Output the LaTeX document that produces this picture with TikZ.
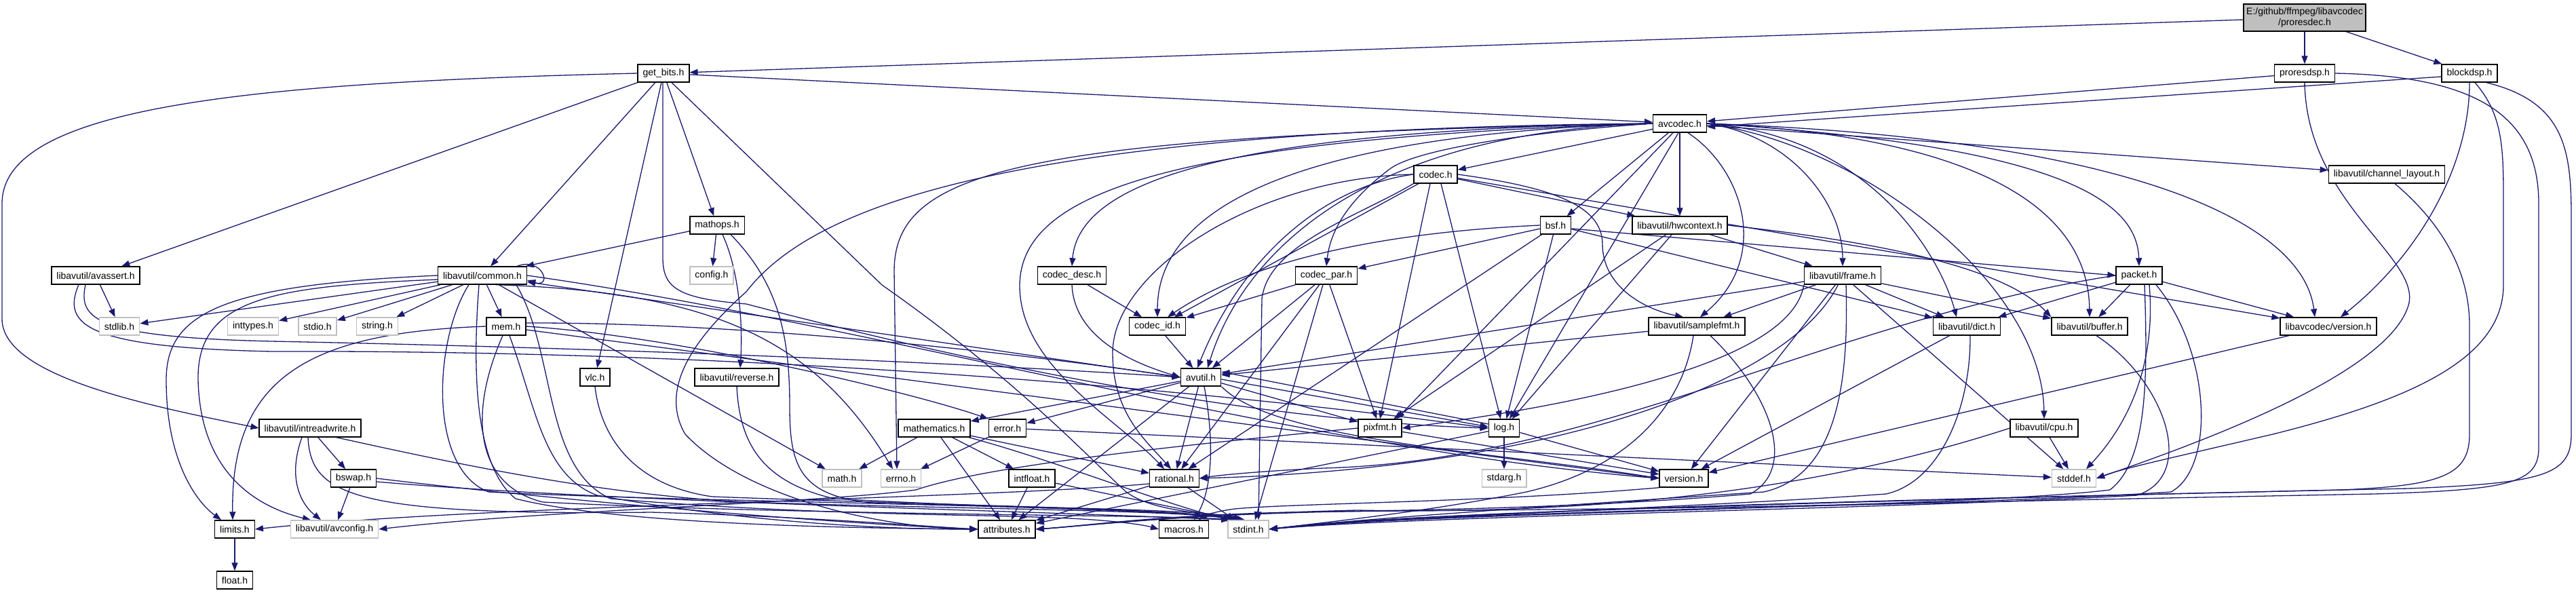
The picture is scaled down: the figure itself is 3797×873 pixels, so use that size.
\documentclass[tikz,border=0pt]{standalone}
\usepackage{fontspec}
\setmainfont{Liberation Sans}
\usetikzlibrary{arrows.meta}
\definecolor{edgec}{HTML}{191970}
\definecolor{grayb}{HTML}{BFBFBF}
\pgfdeclarelayer{back}
\pgfdeclarelayer{bg}
\pgfsetlayers{back,bg,main}
\begin{document}
\begin{tikzpicture}[x=1pt,y=-1pt,
 box/.style={draw=black,line width=1.4pt,fill=white,minimum height=26pt,inner xsep=7.5pt,inner ysep=0pt,font=\fontsize{14}{16}\selectfont},
 sysbox/.style={box,draw=grayb},
 e/.style={draw=edgec,line width=1.3pt,-{Triangle[length=12pt,width=9pt]}},
]
\useasboundingbox (0,0) rectangle (3797,873);
\begin{pgfonlayer}{back}
\fill[white] (0,0) rectangle (3797,873);
\end{pgfonlayer}
% ---------------- nodes
\node[box,fill=grayb,align=center,minimum height=40pt,inner xsep=4pt] (proresdec) at (3397,26) {E:/github/ffmpeg/libavcodec\\/proresdec.h};
\node[box] (proresdsp) at (3397,108) {proresdsp.h};
\node[box] (blockdsp) at (3640,108) {blockdsp.h};
\node[box] (getbits) at (978,108) {get\_bits.h};
\node[box] (avcodec) at (2476,182) {avcodec.h};
\node[box] (codec) at (2116,257) {codec.h};
\node[box] (chlayout) at (3518,257) {libavutil/channel\_layout.h};
\node[box] (bsf) at (2293,332) {bsf.h};
\node[box] (hwcontext) at (2476,332) {libavutil/hwcontext.h};
\node[box] (mathops) at (1057,332) {mathops.h};
\node[box] (avassert) at (141,406) {libavutil/avassert.h};
\node[box] (common) at (711,406) {libavutil/common.h};
\node[sysbox] (config) at (1049,406) {config.h};
\node[box] (codecdesc) at (1580,406) {codec\_desc.h};
\node[box] (codecpar) at (1955,406) {codec\_par.h};
\node[box] (frame) at (2716,406) {libavutil/frame.h};
\node[box] (packet) at (3153,406) {packet.h};
\node[sysbox] (stdlib) at (176,481) {stdlib.h};
\node[sysbox] (inttypes) at (373,481) {inttypes.h};
\node[sysbox] (stdio) at (468,481) {stdio.h};
\node[sysbox] (string) at (556,481) {string.h};
\node[box] (mem) at (746,481) {mem.h};
\node[box] (codecid) at (1706,481) {codec\_id.h};
\node[box] (samplefmt) at (2501,481) {libavutil/samplefmt.h};
\node[box] (dict) at (2899,481) {libavutil/dict.h};
\node[box] (buffer) at (3080,481) {libavutil/buffer.h};
\node[box] (lavcver) at (3432,481) {libavcodec/version.h};
\node[box] (reverse) at (1086,556) {libavutil/reverse.h};
\node[box] (avutil) at (1770,556) {avutil.h};
\node[box] (vlc) at (877,556) {vlc.h};
\node[box] (intrw) at (457,631) {libavutil/intreadwrite.h};
\node[box] (mathematics) at (1377,631) {mathematics.h};
\node[box] (error) at (1485,631) {error.h};
\node[box] (pixfmt) at (2034,631) {pixfmt.h};
\node[box] (log) at (2217,631) {log.h};
\node[box] (cpu) at (3013,631) {libavutil/cpu.h};
\node[box] (bswap) at (521,705) {bswap.h};
\node[sysbox] (math) at (1241,705) {math.h};
\node[sysbox] (errno) at (1328,705) {errno.h};
\node[box] (intfloat) at (1521,705) {intfloat.h};
\node[box] (rational) at (1731,705) {rational.h};
\node[sysbox] (stdarg) at (2217,705) {stdarg.h};
\node[box] (version) at (2482,705) {version.h};
\node[sysbox] (stddef) at (3057,705) {stddef.h};
\node[box] (limits) at (346,780) {limits.h};
\node[sysbox] (avconfig) at (493,780) {libavutil/avconfig.h};
\node[box] (attributes) at (1484,780) {attributes.h};
\node[box] (macros) at (1745,780) {macros.h};
\node[sysbox] (stdint) at (1840,780) {stdint.h};
\node[box] (float) at (346,855) {float.h};
% ---------------- edges
\begin{pgfonlayer}{bg}
% proresdec
\draw[e] (proresdec) -- (getbits);
\draw[e] (proresdec) -- (proresdsp);
\draw[e] (proresdec) -- (blockdsp);
% proresdsp
\draw[e] (proresdsp) -- (avcodec);
\draw[e] (proresdsp.south) .. controls (3400,300) and (3570,380) .. (3550,450) .. controls (3520,550) and (3250,650) .. (stddef.east);
\draw[e] (proresdsp.east) .. controls (3650,112) and (3742,170) .. (3742,300) -- (3742,660) .. controls (3742,712) and (3700,722) .. (3500,728) .. controls (2600,745) and (2050,760) .. (stdint.east);
% blockdsp
\draw[e] ([yshift=-5pt]blockdsp.west) -- ([yshift=-5pt]avcodec.east);
\draw[e] (blockdsp.south) .. controls (3640,250) and (3560,380) .. ([xshift=18pt]lavcver.north);
\draw[e] ([xshift=8pt]blockdsp.south) .. controls (3690,170) and (3690,220) .. (3690,300) -- (3690,420) .. controls (3690,530) and (3550,590) .. (3350,640) .. controls (3200,675) and (3130,690) .. (stddef.east);
\draw[e] ([xshift=25pt]blockdsp.south) .. controls (3780,150) and (3790,220) .. (3790,320) -- (3790,640) .. controls (3790,700) and (3750,712) .. (3550,720) .. controls (2600,740) and (2050,758) .. (stdint.east);
% channel layout
\draw[e] ([xshift=12pt]chlayout.south) .. controls (3600,330) and (3640,400) .. (3640,480) -- (3640,640) .. controls (3640,700) and (3600,716) .. (3450,722) .. controls (2600,742) and (2050,758) .. (stdint.east);
% get_bits
\draw[e] (getbits) -- (avcodec);
\draw[e] (getbits) -- (avassert);
\draw[e] (getbits) -- (common);
\draw[e] (getbits.west) .. controls (350,122) and (3,160) .. (3,300) -- (3,470) .. controls (3,555) and (220,598) .. (intrw.west);
\draw[e] ([xshift=-1pt]getbits.south) -- (977,380) .. controls (977,425) and (1000,440) .. (1100,448) .. controls (1450,540) and (1850,620) .. (log.west);
\draw[e] (getbits) -- (mathops);
\draw[e] (getbits) -- (vlc);
\draw[e] ([xshift=12pt]getbits.south) -- (1300,420) .. controls (1500,560) and (1610,680) .. (1660,725) .. controls (1700,755) and (1780,755) .. ([xshift=-20pt]stdint.north);
% avcodec
\draw[e] (avcodec.west) .. controls (1500,200) and (1318,250) .. (1318,400) -- ([xshift=-6pt]errno.north);
\draw[e] (avcodec.west) .. controls (1500,190) and (1200,300) .. (1100,430) .. controls (1010,510) and (975,580) .. (1010,640) .. controls (1100,735) and (1300,778) .. (attributes.west);
\draw[e] ([xshift=12pt]avcodec.south) .. controls (2570,250) and (2610,380) .. ([xshift=5pt]samplefmt.north);
\draw[e] (avcodec.west) .. controls (2000,195) and (1830,380) .. ([xshift=10pt]avutil.north);
\draw[e] (avcodec.east) .. controls (2900,200) and (3078,300) .. (buffer.north);
\draw[e] (avcodec.east) .. controls (2750,215) and (3010,420) .. (cpu.north);
\draw[e] (avcodec) -- (chlayout);
\draw[e] (avcodec.east) .. controls (2760,200) and (2860,380) .. ([xshift=-15pt]dict.north);
\draw[e] (avcodec.east) .. controls (2640,200) and (2716,300) .. (frame.north);
\draw[e] (avcodec) -- (hwcontext);
\draw[e] ([xshift=-2pt]avcodec.south) -- (log);
\draw[e] ([xshift=-10pt]avcodec.south) -- ([xshift=-8pt]pixfmt.north east);
\draw[e] (avcodec.west) .. controls (1700,205) and (1505,290) .. (1503,420) .. controls (1502,540) and (1650,620) .. ([xshift=-15pt]rational.north);
\draw[e] (avcodec) -- (bsf);
\draw[e] (avcodec) -- (codec);
\draw[e] (avcodec.west) .. controls (1800,192) and (1590,270) .. (codecdesc.north);
\draw[e] (avcodec.west) .. controls (2250,195) and (2090,220) .. (2050,248) .. controls (2000,285) and (1962,330) .. (codecpar.north);
\draw[e] (avcodec.west) .. controls (1850,200) and (1706,330) .. (codecid.north);
\draw[e] (avcodec.east) .. controls (3050,215) and (3150,300) .. (packet.north);
\draw[e] (avcodec.east) .. controls (3150,205) and (3395,330) .. ([xshift=-20pt]lavcver.north);
% codec
\draw[e] (codec.south west) .. controls (2000,320) and (1870,360) .. (1860,440) -- ([xshift=15pt]stdint.north);
\draw[e] (codec.west) .. controls (1950,275) and (1830,380) .. ([xshift=-5pt]avutil.north);
\draw[e] (codec) -- (hwcontext);
\draw[e] ([xshift=8pt]codec.south) -- ([xshift=-5pt]log.north);
\draw[e] ([xshift=-8pt]codec.south) -- (pixfmt.north);
\draw[e] (codec.west) .. controls (1850,262) and (1640,400) .. (1640,520) .. controls (1640,610) and (1690,650) .. ([xshift=-5pt]rational.north);
\draw[e] (codec.east) .. controls (2280,275) and (2362,300) .. (2362,360) .. controls (2362,420) and (2420,455) .. ([xshift=-20pt]samplefmt.north);
\draw[e] (codec) -- (codecid);
\draw[e] (codec) -- (lavcver);
% bsf
\draw[e] (bsf) -- (dict);
\draw[e] (bsf) -- (log);
\draw[e] (bsf) -- (rational);
\draw[e] (bsf.west) .. controls (2050,342) and (1850,380) .. ([xshift=15pt]codecid.north);
\draw[e] (bsf) -- (codecpar);
\draw[e] ([yshift=-5pt]bsf.east) -- (packet.west);
% hwcontext
\draw[e] (hwcontext.east) .. controls (2800,360) and (2960,400) .. (buffer.north west);
\draw[e] (hwcontext) -- (frame);
\draw[e] (hwcontext) -- (log);
\draw[e] (hwcontext) -- (pixfmt);
% mathops
\draw[e] (mathops) -- (common);
\draw[e] ([xshift=8pt]mathops.south) .. controls (1090,400) and (1095,480) .. ([xshift=5pt]reverse.north);
\draw[e] (mathops) -- (config);
\draw[e] ([xshift=20pt]mathops.south) .. controls (1150,420) and (1164,500) .. (1164,600) .. controls (1164,690) and (1180,735) .. (1300,742) .. controls (1550,748) and (1790,752) .. ([xshift=-10pt]stdint.north);
% avassert
\draw[e] (avassert) -- (stdlib);
\draw[e] ([xshift=-15pt]avassert.south) .. controls (115,470) and (140,497) .. (400,503) .. controls (1000,515) and (1500,540) .. (avutil.west);
\draw[e] ([xshift=-25pt]avassert.south) .. controls (90,480) and (130,512) .. (400,518) .. controls (1200,515) and (1900,590) .. (log.west);
% common
\draw[e] (common) -- (stdlib);
\draw[e] (common) -- (inttypes);
\draw[e] (common) -- (stdio);
\draw[e] (common) -- (string);
\draw[e] (common) -- (mem);
\draw[e] (common.west) .. controls (330,420) and (245,460) .. (245,560) .. controls (245,680) and (290,740) .. ([xshift=-20pt]limits.north);
\draw[e] ([yshift=-6pt]common.west) .. controls (400,422) and (290,440) .. (292,560) .. controls (295,690) and (370,745) .. ([xshift=-35pt]avconfig.north);
\draw[e] (common) -- (math);
\draw[e] ([xshift=20pt]common.south) .. controls (1050,430) and (1200,500) .. ([xshift=-12pt]errno.north);
\draw[e] ([xshift=-20pt]common.south) .. controls (640,500) and (630,690) .. (720,725) .. controls (1000,740) and (1700,745) .. ([xshift=-5pt]stdint.north);
\draw[e] ([xshift=-5pt]common.south) .. controls (700,500) and (690,680) .. (760,735) .. controls (900,770) and (1200,778) .. (attributes.west);
\draw[e] ([xshift=50pt]common.south) .. controls (820,520) and (800,690) .. (900,735) .. controls (1200,760) and (1450,758) .. (1550,763) .. controls (1620,765) and (1680,772) .. (macros.west);
\draw[e] (common.east) .. controls (1300,480) and (1900,660) .. (version.west);
\draw[e] ([xshift=-15pt]common.north east) .. controls (800,378) and (815,425) .. ([yshift=-7pt]common.east);
% mem
\draw[e] (mem.west) .. controls (450,490) and (340,560) .. ([xshift=-3pt]limits.north);
\draw[e] ([xshift=-5pt]mem.south) .. controls (690,610) and (700,715) .. (800,740) .. controls (1200,760) and (1700,758) .. ([xshift=-15pt]stdint.north);
\draw[e] ([xshift=5pt]mem.south) .. controls (790,600) and (800,700) .. (880,730) .. controls (1100,770) and (1300,780) .. (attributes.west);
\draw[e] (mem.east) .. controls (1000,495) and (1350,580) .. (error.north west);
\draw[e] ([yshift=5pt]mem.east) .. controls (1100,475) and (1500,520) .. (avutil.west);
\draw[e] ([yshift=-5pt]mem.east) -- (version.west);
% avutil
\draw[e] (avutil) -- (attributes);
\draw[e] (avutil.west) -- (common);
\draw[e] (avutil) -- (error);
\draw[e] (avutil) -- (rational);
\draw[e] (avutil.south east) .. controls (1880,650) and (2200,665) .. (version.west);
\draw[e] ([xshift=5pt]avutil.south) .. controls (1790,650) and (1787,720) .. ([xshift=15pt]macros.north);
\draw[e] (avutil) -- (mathematics);
\draw[e] ([yshift=-3pt]avutil.east) -- ([yshift=2pt]log.west);
\draw[e] (avutil) -- (pixfmt);
% codec_desc / codec_id / codec_par
\draw[e] (codecdesc.south) .. controls (1582,470) and (1620,520) .. (avutil.west);
\draw[e] (codecdesc) -- (codecid);
\draw[e] (codecid) -- (avutil);
\draw[e] ([xshift=-5pt]codecpar.south) -- ([xshift=10pt]stdint.north);
\draw[e] (codecpar) -- (avutil);
\draw[e] (codecpar) -- (rational);
\draw[e] (codecpar) -- (pixfmt);
\draw[e] (codecpar) -- (codecid);
% frame
\draw[e] (frame) -- (avutil);
\draw[e] (frame) -- (buffer);
\draw[e] (frame) -- (dict);
\draw[e] (frame) .. controls (2640,560) and (2300,690) .. (rational.east);
\draw[e] (frame) -- (samplefmt);
\draw[e] (frame.south west) .. controls (2640,540) and (2300,600) .. (pixfmt.east);
\draw[e] (frame) -- (version);
\draw[e] (frame) -- (stddef);
\draw[e] ([xshift=5pt]frame.south) .. controls (2725,560) and (2710,700) .. (2600,725) .. controls (2300,745) and (2000,765) .. (stdint.east);
% packet
\draw[e] ([xshift=15pt]packet.south) .. controls (3175,500) and (3160,600) .. ([xshift=18pt]stddef.north);
\draw[e] ([xshift=8pt]packet.south) .. controls (3166,560) and (3165,680) .. (3110,722) .. controls (2900,748) and (2100,755) .. (stdint.east);
\draw[e] ([xshift=25pt]packet.south) .. controls (3260,520) and (3265,690) .. (3200,725) .. controls (2800,752) and (2000,752) .. (1900,755) .. controls (1700,760) and (1600,775) .. (attributes.east);
\draw[e] (packet) -- (buffer);
\draw[e] (packet) -- (dict);
\draw[e] (packet.west) .. controls (2700,470) and (2350,680) .. (1950,690) .. controls (1850,695) and (1800,700) .. (rational.east);
\draw[e] (packet) -- (lavcver);
% dict / buffer / lavcver
\draw[e] (dict) -- (version);
\draw[e] ([xshift=5pt]dict.south) .. controls (2905,600) and (2860,710) .. (2780,728) .. controls (2500,748) and (2050,762) .. (stdint.east);
\draw[e] ([xshift=10pt]buffer.south) .. controls (3190,560) and (3240,700) .. (3150,730) .. controls (2800,750) and (2100,760) .. (stdint.east);
\draw[e] (lavcver) -- (version);
% samplefmt
\draw[e] (samplefmt) -- (avutil);
\draw[e] ([xshift=-5pt]samplefmt.south) .. controls (2480,600) and (2400,690) .. (2250,725) .. controls (2100,755) and (1950,770) .. (stdint.east);
\draw[e] ([xshift=20pt]samplefmt.south) .. controls (2610,580) and (2650,690) .. (2580,728) .. controls (2300,752) and (2000,752) .. (1900,756) .. controls (1700,762) and (1600,775) .. (attributes.east);
% cpu
\draw[e] (cpu) -- (stddef);
\draw[e] (cpu.west) .. controls (2750,700) and (2450,760) .. (2000,752) .. controls (1750,758) and (1600,775) .. (attributes.east);
% log
\draw[e] (log) -- (stdarg);
\draw[e] (log) -- (version);
\draw[e] (log) -- (attributes);
\draw[e] ([yshift=6pt]log.west) -- ([yshift=8pt]avutil.east);
% pixfmt
\draw[e] (pixfmt.west) .. controls (1700,660) and (1450,688) .. (1350,722) .. controls (1200,742) and (800,752) .. (avconfig.east);
\draw[e] (pixfmt) -- (version);
% rational
\draw[e] (rational) -- (stdint);
\draw[e] ([yshift=-8pt]rational.west) .. controls (1450,735) and (700,745) .. (limits.east);
\draw[e] (rational) -- (attributes);
% intfloat
\draw[e] (intfloat) -- (attributes);
\draw[e] (intfloat) -- ([xshift=-20pt]stdint.north);
% mathematics
\draw[e] (mathematics) -- (math);
\draw[e] (mathematics) -- (attributes);
\draw[e] (mathematics) -- (rational);
\draw[e] (mathematics) -- (intfloat);
\draw[e] (mathematics) .. controls (1560,680) and (1720,745) .. ([xshift=-25pt]stdint.north);
% error
\draw[e] (error) -- (errno);
\draw[e] (error) -- (stddef);
% intreadwrite
\draw[e] (intrw) -- (bswap);
\draw[e] ([xshift=-12pt]intrw.south) .. controls (425,700) and (440,740) .. ([xshift=-20pt]avconfig.north);
\draw[e] ([xshift=-3pt]intrw.south) .. controls (458,730) and (520,760) .. (960,755) .. controls (1200,762) and (1350,775) .. (attributes.west);
\draw[e] ([xshift=39pt]intrw.south) .. controls (700,690) and (900,730) .. (1100,740) .. controls (1400,750) and (1750,752) .. ([xshift=-22pt]stdint.north);
% bswap
\draw[e] (bswap) -- (avconfig);
\draw[e] (bswap.east) .. controls (800,735) and (1200,770) .. (attributes.west);
\draw[e] ([yshift=-5pt]bswap.east) .. controls (900,740) and (1500,752) .. ([xshift=-28pt]stdint.north);
% vlc / reverse
\draw[e] (vlc.south) .. controls (885,640) and (930,715) .. (1050,732) .. controls (1400,745) and (1750,750) .. ([xshift=-18pt]stdint.north);
\draw[e] (reverse.south) .. controls (1090,650) and (1120,710) .. (1230,735) .. controls (1500,750) and (1750,752) .. ([xshift=-12pt]stdint.north);
% misc
\draw[e] (limits) -- (float);
\draw[e] (version.south west) .. controls (2200,740) and (1900,742) .. (1820,750) .. controls (1790,754) and (1775,760) .. ([xshift=22pt]macros.north);
\end{pgfonlayer}
\end{tikzpicture}
\end{document}
